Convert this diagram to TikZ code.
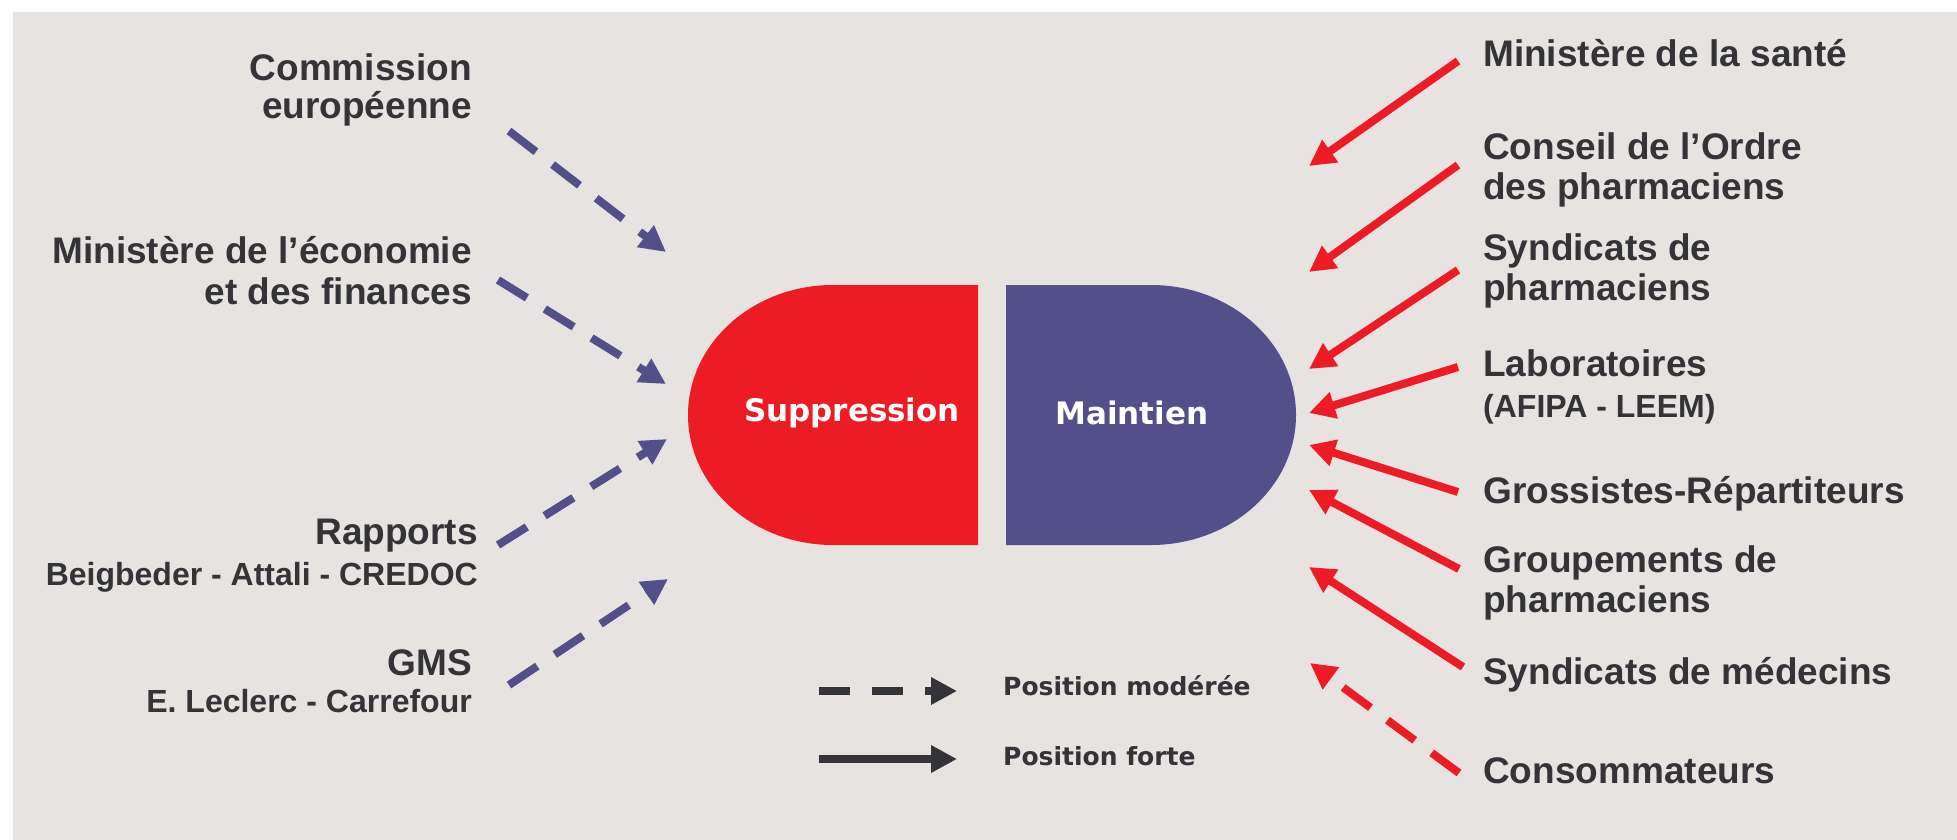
\documentclass[tikz,border=0pt]{standalone}
\usepackage{fontspec}
\setmainfont{Liberation Sans}
\newfontfamily\heavyfont{DejaVu Sans}
\usetikzlibrary{arrows.meta}
\definecolor{bg}{RGB}{230,227,224}
\definecolor{capred}{RGB}{237,28,36}
\definecolor{capblue}{RGB}{82,79,138}
\definecolor{ink}{RGB}{51,51,56}
\tikzset{
  lbl/.style={font=\bfseries\fontsize{37}{40}\selectfont, text=ink, inner sep=0pt},
  sublbl/.style={font=\bfseries\fontsize{32}{36}\selectfont, text=ink, inner sep=0pt},
  captxt/.style={font=\heavyfont\bfseries\fontsize{31}{36}\selectfont, text=white, inner sep=0pt},
  legtxt/.style={font=\heavyfont\bfseries\fontsize{25}{30}\selectfont, text=ink, inner sep=0pt, anchor=base west},
  strong/.style={line width=8pt, -{Triangle[length=26pt,width=26pt]}},
  moderate/.style={strong, dash pattern=on 34pt off 21pt},
}
\begin{document}
\begin{tikzpicture}[x=1pt,y=-1pt]
\useasboundingbox (0,0) rectangle (1957,839);
\fill[bg] (13,12) rectangle (1975,860);

% capsule
\fill[capred] (978,285) -- (833,285) arc[start angle=270, end angle=90, x radius=145, y radius=130] -- (978,545) -- cycle;
\fill[capblue] (1006,285) -- (1151,285) arc[start angle=270, end angle=450, x radius=145, y radius=130] -- (1006,545) -- cycle;
\node[captxt] (supp) at (852,413) {Suppression};
\node[captxt] (maint) at (1132,413) {Maintien};

% left labels
\node[lbl, anchor=base east] (commA) at (472,80) {Commission};
\node[lbl, anchor=base east] (commB) at (472,118) {européenne};
\node[lbl, anchor=base east] (ecoA) at (472,263) {Ministère de l’économie};
\node[lbl, anchor=base east] (ecoB) at (472,304) {et des finances};
\node[lbl, anchor=base east] (rapA) at (478,544) {Rapports};
\node[sublbl, anchor=base east] (rapB) at (478,585) {Beigbeder - Attali - CREDOC};
\node[lbl, anchor=base east] (gmsA) at (472,675) {GMS};
\node[sublbl, anchor=base east] (gmsB) at (472,712) {E. Leclerc - Carrefour};

% right labels
\node[lbl, anchor=base west] (sante) at (1483,66) {Ministère de la santé};
\node[lbl, anchor=base west] (ordreA) at (1483,159) {Conseil de l’Ordre};
\node[lbl, anchor=base west] (ordreB) at (1483,199) {des pharmaciens};
\node[lbl, anchor=base west] (synA) at (1483,260) {Syndicats de};
\node[lbl, anchor=base west] (synB) at (1483,300) {pharmaciens};
\node[lbl, anchor=base west] (labA) at (1483,376) {Laboratoires};
\node[sublbl, anchor=base west] (labB) at (1483,417) {(AFIPA - LEEM)};
\node[lbl, anchor=base west] (gross) at (1483,503) {Grossistes-Répartiteurs};
\node[lbl, anchor=base west] (grpA) at (1483,572) {Groupements de};
\node[lbl, anchor=base west] (grpB) at (1483,612) {pharmaciens};
\node[lbl, anchor=base west] (med) at (1483,684) {Syndicats de médecins};
\node[lbl, anchor=base west] (conso) at (1483,783) {Consommateurs};

% arrow end points
\coordinate (commS) at (509,131);  \coordinate (commT) at (666,252);
\coordinate (ecoS) at (498,280);   \coordinate (ecoT) at (666,384);
\coordinate (rapS) at (498,545);   \coordinate (rapT) at (667,439);
\coordinate (gmsS) at (509,685);   \coordinate (gmsT) at (668,579);
\coordinate (santeS) at (1458,61);  \coordinate (santeT) at (1309,166);
\coordinate (ordreS) at (1458,165); \coordinate (ordreT) at (1309,272);
\coordinate (synS) at (1458,270);   \coordinate (synT) at (1309,369);
\coordinate (labS) at (1458,367);   \coordinate (labT) at (1309,413);
\coordinate (grossS) at (1458,492); \coordinate (grossT) at (1309,445);
\coordinate (grpS) at (1459,569);   \coordinate (grpT) at (1309,490);
\coordinate (medS) at (1463,667);   \coordinate (medT) at (1309,567);
\coordinate (consoS) at (1459,773); \coordinate (consoT) at (1310,663);

\draw[moderate, capblue] (commS) -- (commT);
\draw[moderate, capblue] (ecoS) -- (ecoT);
\draw[moderate, capblue] (rapS) -- (rapT);
\draw[moderate, capblue] (gmsS) -- (gmsT);

\draw[strong, capred] (santeS) -- (santeT);
\draw[strong, capred] (ordreS) -- (ordreT);
\draw[strong, capred] (synS) -- (synT);
\draw[strong, capred] (labS) -- (labT);
\draw[strong, capred] (grossS) -- (grossT);
\draw[strong, capred] (grpS) -- (grpT);
\draw[strong, capred] (medS) -- (medT);
\draw[moderate, capred] (consoS) -- (consoT);

% legend
\coordinate (legdS) at (819,691); \coordinate (legdT) at (957,691);
\coordinate (legsS) at (819,759); \coordinate (legsT) at (957,759);
\draw[strong, ink, dash pattern=on 31pt off 22pt] (legdS) -- (legdT);
\draw[strong, ink] (legsS) -- (legsT);
\node[legtxt] (legd) at (1003,695) {Position modérée};
\node[legtxt] (legs) at (1003,765) {Position forte};
\end{tikzpicture}
\end{document}
